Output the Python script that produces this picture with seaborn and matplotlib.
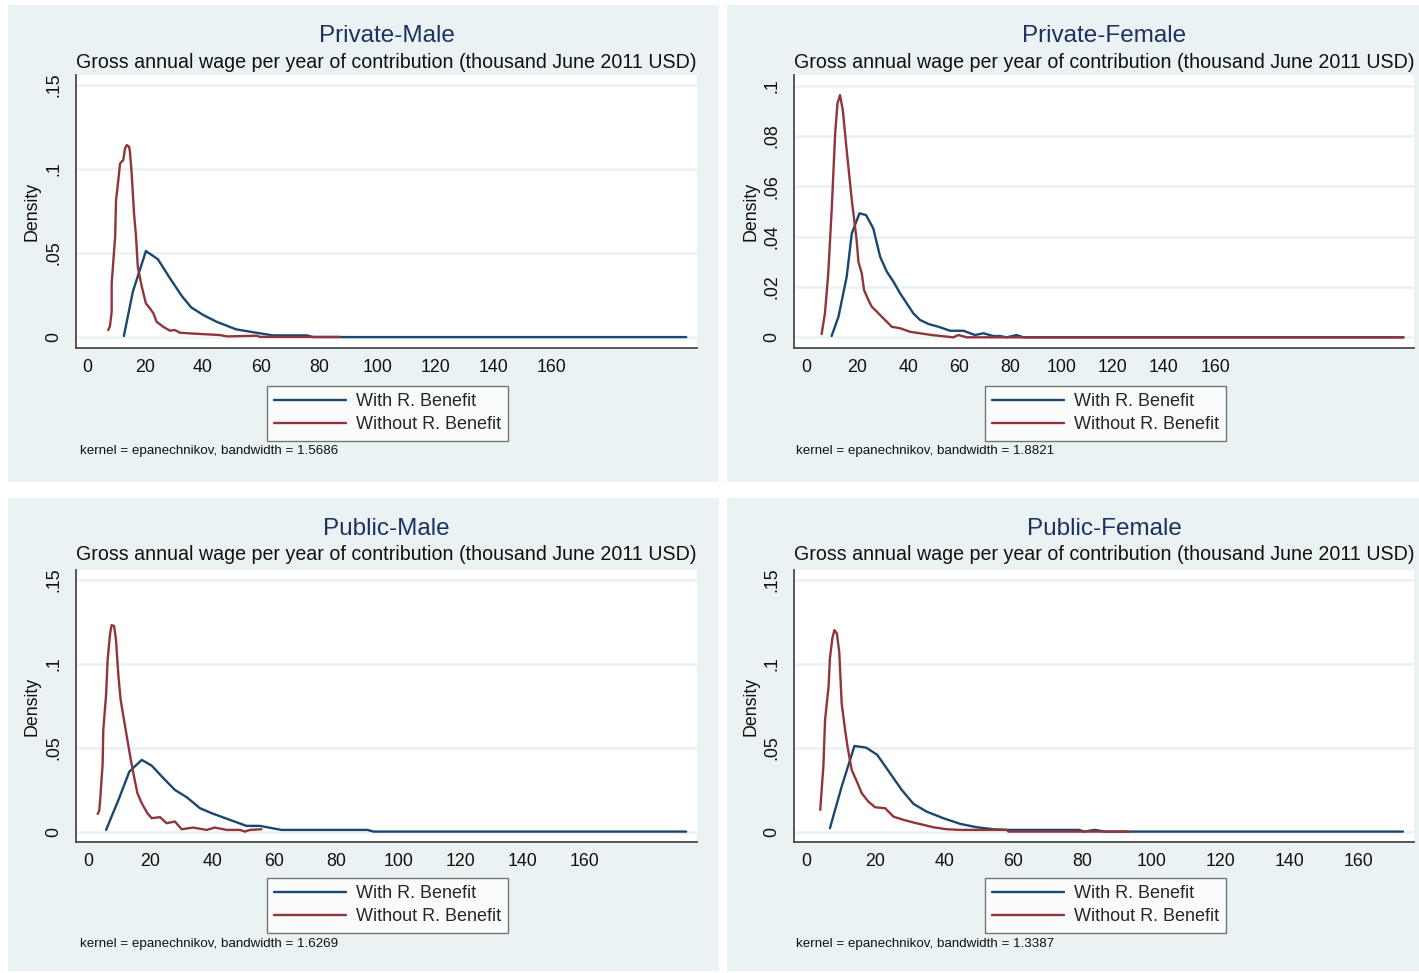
import matplotlib
matplotlib.use("Agg")
import matplotlib.pyplot as plt
from matplotlib.patches import Rectangle
import seaborn as sns

# ---------------- data ----------------
titles = ["Private-Male", "Private-Female", "Public-Male", "Public-Female"]
subtitle = "Gross annual wage per year of contribution (thousand June 2011 USD)"
series_labels = ["With R. Benefit", "Without R. Benefit"]
bandwidths = ["1.5686", "1.8821", "1.6269", "1.3387"]

pm_with_x = [12.7, 15.8, 20.3, 24.4, 28.6, 32.7, 35.9, 40.1, 44.7, 51.4, 59.7, 64.2, 75.8, 78.0, 206.6]
pm_with_y = [0.0006, 0.027, 0.0512, 0.0464, 0.035, 0.0244, 0.0177, 0.0131, 0.0091, 0.0046, 0.0022, 0.001, 0.001, 0.0, 0.0]
pm_without_x = [7.3, 7.9, 8.5, 8.5, 9.7, 10.0, 10.8, 11.4, 12.5, 13.1, 13.7, 14.5, 14.8, 15.4, 16.2, 16.9,
                17.5, 18.9, 20.3, 21.7, 22.9, 24.0, 26.3, 28.6, 30.3, 32.0, 35.5, 45.9, 48.2, 58.5, 59.7, 87.2]
pm_without_y = [0.0042, 0.0065, 0.015, 0.032, 0.0597, 0.0815, 0.0935, 0.1034, 0.1054, 0.1123, 0.1143, 0.1133,
                0.1103, 0.0974, 0.0736, 0.0597, 0.0418, 0.0299, 0.020, 0.0171, 0.0141, 0.0091, 0.0061, 0.0038,
                0.0042, 0.0026, 0.0022, 0.0012, 0.0004, 0.0008, 0.0001, 0.0001]

pf_with_x = [10.0, 12.7, 15.9, 17.9, 20.9, 23.5, 26.3, 29.0, 31.6, 34.2, 36.8, 39.4, 42.0, 44.6, 47.9, 51.8,
             56.4, 61.6, 66.1, 69.4, 73.3, 75.9, 78.5, 82.4, 85.0, 233.7]
pf_with_y = [0.0005, 0.0082, 0.024, 0.0413, 0.0493, 0.0486, 0.0433, 0.032, 0.0261, 0.0221, 0.0175, 0.0135,
             0.0095, 0.0069, 0.0053, 0.0042, 0.0026, 0.0026, 0.0009, 0.0016, 0.0005, 0.0005, 0.0, 0.0009, 0.0, 0.0]
pf_without_x = [6.1, 7.4, 8.7, 10.1, 11.4, 12.3, 13.3, 14.4, 15.9, 17.9, 19.8, 20.5, 21.8, 22.7, 24.4, 25.7,
                27.7, 29.6, 31.6, 33.5, 36.8, 40.7, 44.6, 49.2, 57.6, 59.6, 62.9, 233.7]
pf_without_y = [0.0013, 0.0095, 0.0254, 0.0519, 0.0811, 0.093, 0.0963, 0.0903, 0.0744, 0.0546, 0.0387, 0.030,
                0.0254, 0.0188, 0.0148, 0.0122, 0.0102, 0.0082, 0.0062, 0.0042, 0.0036, 0.0022, 0.0016, 0.0009,
                0.0, 0.0009, 0.0, 0.0]

um_with_x = [5.7, 9.7, 13.2, 17.2, 20.4, 24.2, 27.9, 31.7, 36.0, 39.7, 45.6, 51.0, 55.3, 62.3, 90.0, 92.0, 192.8]
um_with_y = [0.001, 0.0189, 0.0357, 0.0427, 0.0393, 0.0318, 0.0248, 0.0205, 0.0139, 0.011, 0.007, 0.0034,
             0.0034, 0.001, 0.001, 0.0, 0.0]
um_without_x = [3.0, 3.5, 3.8, 4.6, 4.8, 5.7, 6.2, 7.0, 7.5, 8.3, 8.9, 9.7, 10.4, 11.3, 12.4, 13.4, 14.5, 15.8,
                17.2, 19.0, 20.4, 23.1, 25.2, 27.9, 30.1, 33.8, 38.1, 40.8, 44.6, 48.9, 50.5, 52.1, 55.8]
um_without_y = [0.0105, 0.0125, 0.0189, 0.0407, 0.0605, 0.0814, 0.1022, 0.1181, 0.123, 0.1224, 0.1141, 0.0923,
                0.0784, 0.0685, 0.0565, 0.0457, 0.0348, 0.0229, 0.0169, 0.011, 0.008, 0.0086, 0.005, 0.006,
                0.0014, 0.0024, 0.001, 0.0024, 0.001, 0.001, 0.0, 0.001, 0.0014]

uf_with_x = [6.9, 10.3, 14.0, 17.4, 20.6, 24.3, 27.7, 31.1, 34.9, 39.7, 44.6, 49.4, 54.2, 58.1, 79.0, 80.5,
             83.6, 86.5, 172.8]
uf_with_y = [0.002, 0.0268, 0.051, 0.050, 0.0457, 0.0348, 0.0248, 0.0165, 0.0119, 0.008, 0.0046, 0.0026,
             0.0014, 0.001, 0.001, 0.0, 0.001, 0.0, 0.0]
uf_without_x = [4.1, 4.3, 5.0, 5.5, 6.5, 6.9, 7.6, 8.2, 8.9, 9.6, 10.3, 11.3, 12.0, 13.2, 14.7, 16.1, 18.0,
                20.0, 22.9, 25.3, 28.2, 31.1, 34.0, 36.8, 40.7, 44.6, 58.1, 58.6, 93.5]
uf_without_y = [0.0129, 0.0189, 0.0387, 0.0665, 0.0863, 0.1032, 0.1151, 0.120, 0.1181, 0.1071, 0.0764, 0.0605,
                0.0506, 0.0367, 0.0298, 0.0229, 0.0179, 0.0145, 0.0139, 0.0089, 0.007, 0.0054, 0.004, 0.0026,
                0.0014, 0.001, 0.001, 0.0, 0.0]

x_ticks = [0, 20, 40, 60, 80, 100, 120, 140, 160]
y_ticks_a = [0, 0.05, 0.10, 0.15]
y_labels_a = ["0", ".05", ".1", ".15"]
y_ticks_b = [0, 0.02, 0.04, 0.06, 0.08, 0.10]
y_labels_b = ["0", ".02", ".04", ".06", ".08", ".1"]

# ---------------- style ----------------
sns.set_theme(style="white")
plt.rcParams["font.family"] = ["Liberation Sans", "DejaVu Sans"]

W, H = 1419, 973
BG = "#eaf2f3"
BLUE = "#1a476f"
RED = "#90353b"
TITLE_C = "#1e3160"
AX_C = "#4a4a4a"

fig = plt.figure(figsize=(W / 100, H / 100), dpi=100)
fig.patch.set_facecolor("white")

def fx(px):
    return px / W

def fy(py):
    return 1 - py / H

panels = [
    dict(bg=(8, 5, 719, 482), ax=(76, 75, 697, 348), xlim=(-3.8, 210.3), ylim=(-0.0065, 0.156),
         yt=y_ticks_a, yl=y_labels_a,
         wx=pm_with_x, wy=pm_with_y, ox=pm_without_x, oy=pm_without_y),
    dict(bg=(727, 5, 1419, 482), ax=(794, 75, 1414, 348), xlim=(-4.7, 237.8), ylim=(-0.00425, 0.1043),
         yt=y_ticks_b, yl=y_labels_b,
         wx=pf_with_x, wy=pf_with_y, ox=pf_without_x, oy=pf_without_y),
    dict(bg=(8, 498, 719, 971), ax=(76, 570, 697, 842), xlim=(-4.0, 196.3), ylim=(-0.0062, 0.1558),
         yt=y_ticks_a, yl=y_labels_a,
         wx=um_with_x, wy=um_with_y, ox=um_without_x, oy=um_without_y),
    dict(bg=(727, 498, 1419, 971), ax=(794, 570, 1414, 842), xlim=(-3.5, 176.0), ylim=(-0.0062, 0.1558),
         yt=y_ticks_a, yl=y_labels_a,
         wx=uf_with_x, wy=uf_with_y, ox=uf_without_x, oy=uf_without_y),
]

for i, p in enumerate(panels):
    bx0, by0, bx1, by1 = p["bg"]
    fig.patches.append(Rectangle((fx(bx0), fy(by1)), (bx1 - bx0) / W, (by1 - by0) / H,
                                 transform=fig.transFigure, facecolor=BG, edgecolor="none", zorder=-10))
    l, t, r, b = p["ax"]
    ax = fig.add_axes([fx(l), fy(b), (r - l) / W, (b - t) / H])
    ax.set_facecolor("white")

    sns.lineplot(x=p["wx"], y=p["wy"], sort=False, estimator=None, ax=ax, color=BLUE, lw=1.7,
                 label=series_labels[0])
    sns.lineplot(x=p["ox"], y=p["oy"], sort=False, estimator=None, ax=ax, color=RED, lw=1.7,
                 label=series_labels[1])

    ax.set_xlim(*p["xlim"])
    ax.set_ylim(*p["ylim"])
    ax.set_xticks(x_ticks)
    ax.set_xticklabels([str(v) for v in x_ticks], fontsize=12.8)
    ax.set_yticks(p["yt"])
    ax.set_yticklabels(p["yl"], rotation=90, va="center", fontsize=12.8)
    ax.yaxis.grid(True, color=BG, lw=1.8, zorder=0)
    ax.xaxis.grid(False)
    ax.set_axisbelow(True)
    for s in ("top", "right"):
        ax.spines[s].set_visible(False)
    for s in ("left", "bottom"):
        ax.spines[s].set_color(AX_C)
        ax.spines[s].set_linewidth(1.3)
    ax.tick_params(axis="both", direction="out", length=6, width=1.1, color=AX_C, labelcolor="#111111")
    ax.tick_params(axis="x", pad=2)
    ax.tick_params(axis="y", pad=4)
    ax.set_ylabel("Density", fontsize=12.8, color="#111111")
    ax.yaxis.set_label_coords((bx0 + 32 - l) / (r - l), 0.5)
    ax.set_xlabel("")

    cx = (l + r) / 2
    fig.text(fx(cx), fy(by0 + 31), titles[i], ha="center", va="center", fontsize=17.5, color=TITLE_C)
    fig.text(fx(cx), fy(by0 + 57), subtitle, ha="center", va="center", fontsize=14.1, color="#111111")

    leg_cx = (265 + 510) / 2 if i % 2 == 0 else (983 + 1228) / 2
    leg_top = by0 + 381 if i < 2 else by0 + 380
    leg = ax.legend(loc="upper center", bbox_to_anchor=(fx(leg_cx), fy(leg_top)),
                    bbox_transform=fig.transFigure, frameon=True, fancybox=False,
                    fontsize=13, handlelength=4.0, handletextpad=0.55, borderpad=0.4,
                    labelspacing=0.34, borderaxespad=0)
    leg.get_frame().set_edgecolor("#555555")
    leg.get_frame().set_linewidth(1.0)
    leg.get_frame().set_facecolor("white")
    for h in leg.get_lines():
        h.set_linewidth(1.7)

    note_x = 80 if i % 2 == 0 else 796
    fig.text(fx(note_x), fy(by0 + 446), "kernel = epanechnikov, bandwidth = " + bandwidths[i],
             ha="left", va="center", fontsize=9.6, color="#111111")

fig.savefig("out.png", dpi=100, facecolor="white")
